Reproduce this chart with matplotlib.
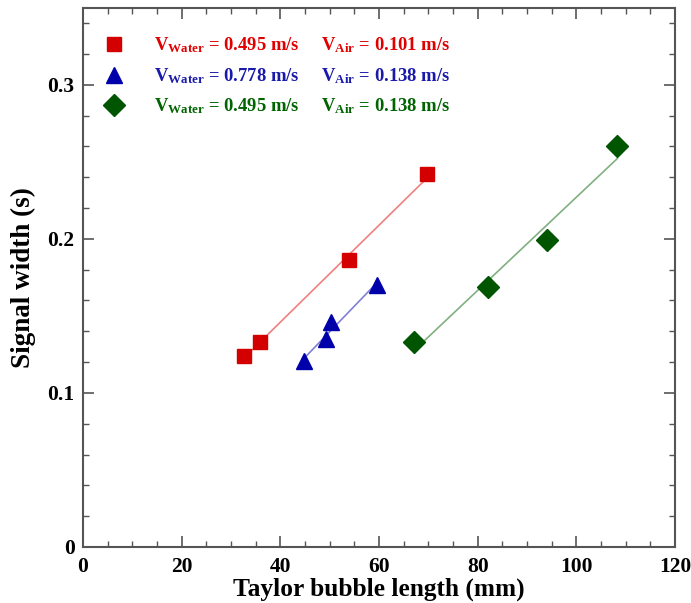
import numpy as np
import matplotlib.pyplot as plt
from matplotlib.lines import Line2D

plt.rcParams['font.family'] = 'Liberation Serif'
plt.rcParams['font.weight'] = 'bold'
plt.rcParams['mathtext.fontset'] = 'custom'
plt.rcParams['mathtext.rm'] = 'Liberation Serif:bold'
plt.rcParams['mathtext.bf'] = 'Liberation Serif:bold'

# data
x_red = [32.6, 35.8, 54.0, 69.8]
y_red = [0.124, 0.133, 0.186, 0.242]
x_blue = [44.9, 49.3, 50.3, 59.5]
y_blue = [0.121, 0.135, 0.146, 0.170]
x_green = [67.0, 82.0, 94.0, 108.3]
y_green = [0.133, 0.169, 0.199, 0.260]

labels = [r'$\mathbf{V_{Water}}$ = 0.495 m/s     $\mathbf{V_{Air}}$ = 0.101 m/s',
          r'$\mathbf{V_{Water}}$ = 0.778 m/s     $\mathbf{V_{Air}}$ = 0.138 m/s',
          r'$\mathbf{V_{Water}}$ = 0.495 m/s     $\mathbf{V_{Air}}$ = 0.138 m/s']

series = [(x_red, y_red, 's', 9.5, '#d40000', '#f08080'),
          (x_blue, y_blue, '^', 11, '#0000aa', '#8080d8'),
          (x_green, y_green, 'D', 11, '#005500', '#80b080')]
text_cols = ['#e00000', '#1a1aaa', '#006400']

fig = plt.figure(figsize=(6.91, 6.03), dpi=100)
ax = fig.add_axes([0.120, 0.093, 0.857, 0.894])

handles = []
for (xs, ys, m, ms, c, lc), lab in zip(series, labels):
    k, b = np.polyfit(xs, ys, 1)
    xx = np.array([min(xs), max(xs)])
    ax.plot(xx, k * xx + b, color=lc, lw=1.2, zorder=2)
    ax.plot(xs, ys, ls='none', marker=m, ms=ms, color=c, mec=c, zorder=3)
    handles.append(Line2D([], [], ls='none', marker=m, ms=ms, color=c, mec=c))

leg = ax.legend(handles, labels, loc='upper left', frameon=False, fontsize=13.4,
                handlelength=1.5, handletextpad=1.4, labelspacing=0.58,
                borderaxespad=0, borderpad=0.4, bbox_to_anchor=(0.0157, 0.962))
for t, c in zip(leg.get_texts(), text_cols):
    t.set_color(c)

ax.set_xlim(0, 120)
ax.set_ylim(0, 0.35)
ax.set_xticks([0, 20, 40, 60, 80, 100, 120])
ax.set_yticks([0, 0.1, 0.2, 0.3])
ax.set_yticklabels(['0', '0.1', '0.2', '0.3'])
ax.set_xticks(np.arange(0, 121, 5), minor=True)
ax.set_yticks(np.arange(0, 0.351, 0.02), minor=True)
ax.tick_params(which='both', direction='in', top=True, right=True, colors='#555555',
               labelcolor='black', labelsize=15.5)
ax.tick_params(which='major', length=8, width=1.2)
ax.tick_params(axis='x', which='major', pad=7)
ax.tick_params(axis='y', which='major', pad=6)
ax.tick_params(which='minor', length=4, width=1)
for s in ax.spines.values():
    s.set_color('#555555')
    s.set_linewidth(1.5)

ax.set_xlabel('Taylor bubble length (mm)', fontsize=18.3, fontweight='bold', labelpad=1)
ax.set_ylabel('Signal width (s)', fontsize=19.5, fontweight='bold', labelpad=8)

fig.savefig('out.png', dpi=100)
